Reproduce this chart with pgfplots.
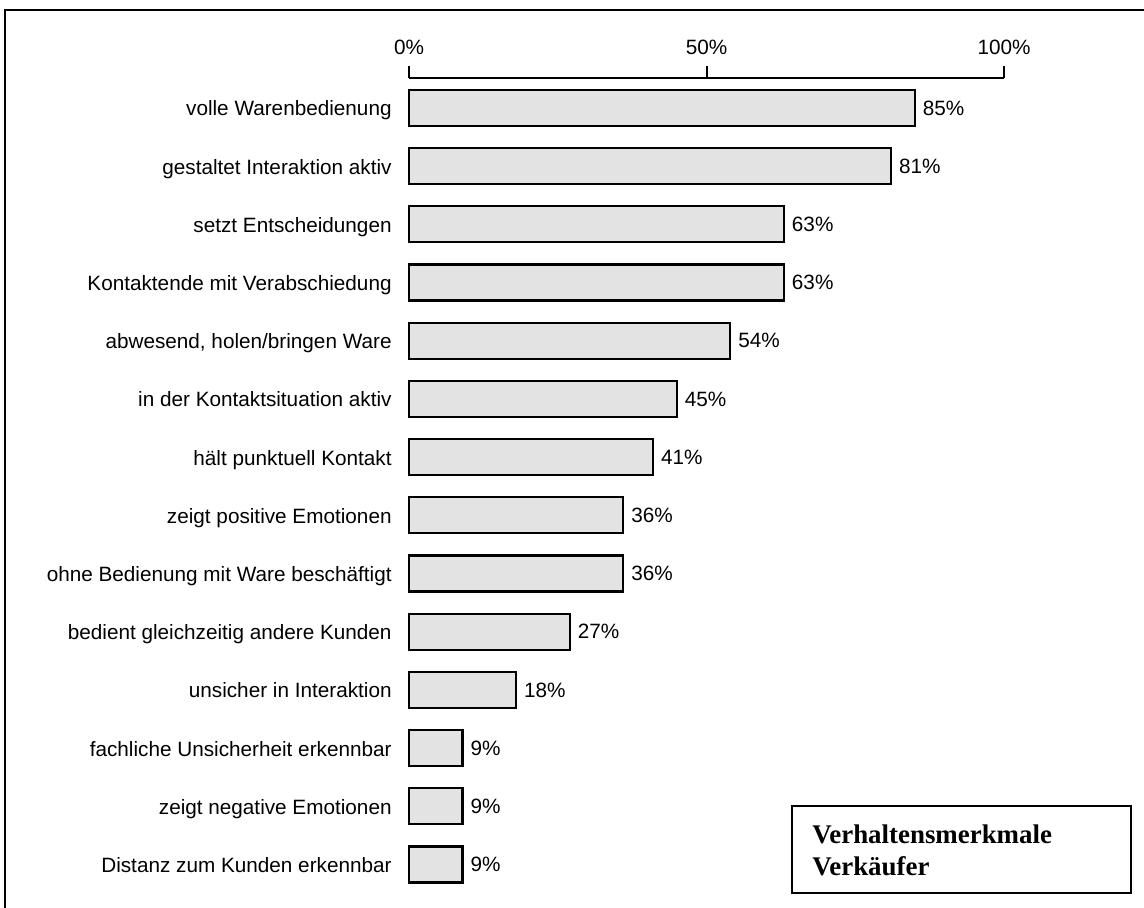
\documentclass[border=0pt]{standalone}
\usepackage{pgfplots}
\pgfplotsset{compat=1.18}
\usepackage{fontspec}
\setmainfont{Liberation Sans}
\newfontfamily\boxfont{Liberation Serif}
\definecolor{barfill}{RGB}{227,227,227}
\begin{document}
\begin{tikzpicture}
\useasboundingbox (0,0) rectangle (572bp,454bp);
% outer frame (only top and left visible)
\draw[line width=1bp] (2.5bp,-10bp) -- (2.5bp,449bp) -- (590bp,449bp);
\begin{axis}[
    at={(204.5bp,415bp)}, anchor=north west,
    x=2.975bp, y=29.1bp,
    y dir=reverse,
    xbar, bar width=18bp,
    xmin=0, xmax=100,
    ymin=-0.515, ymax=13.5,
    clip=false,
    axis x line*=top,
    axis y line*=left,
    y axis line style={draw=none},
    x axis line style={line width=1bp, -},
    xtick={0,50,100},
    xtick align=outside,
    major x tick style={line width=1bp, black},
    major tick length=6bp,
    xticklabel={\pgfmathprintnumber{\tick}\%},
    xticklabel style={yshift=2bp},
    /pgf/number format/assume math mode=true,
    ytick={0,...,13},
    major y tick style={draw=none},
    typeset ticklabels with strut,
    yticklabels={volle Warenbedienung, gestaltet Interaktion aktiv, setzt Entscheidungen, Kontaktende mit Verabschiedung, {abwesend, holen/bringen Ware}, in der Kontaktsituation aktiv, hält punktuell Kontakt, zeigt positive Emotionen, ohne Bedienung mit Ware beschäftigt, bedient gleichzeitig andere Kunden, unsicher in Interaktion, fachliche Unsicherheit erkennbar, zeigt negative Emotionen, Distanz zum Kunden erkennbar},
    tick label style={font=\fontsize{10.4}{12.4}\selectfont},
    yticklabel style={anchor=east, inner sep=0pt, xshift=-2.5bp, yshift=-1.5bp},
    point meta=x,
    nodes near coords={\pgfmathprintnumber{\pgfplotspointmeta}\%},
    nodes near coords style={font=\fontsize{10.4}{12.4}\selectfont, anchor=west, inner sep=3.5bp},
]
\addplot[draw=black, line width=1.1bp, fill=barfill] coordinates {
  (85,0) (81,1) (63,2) (63,3) (54,4) (45,5) (41,6)
  (36,7) (36,8) (27,9) (18,10) (9,11) (9,12) (9,13)
};
\end{axis}
% title box
\draw[line width=1bp] (396bp,7.5bp) rectangle (565.5bp,51bp);
\node[anchor=base west, inner sep=0pt, font=\boxfont\bfseries\fontsize{13.5}{15.5}\selectfont] at (406bp,32.5bp) {Verhaltensmerkmale};
\node[anchor=base west, inner sep=0pt, font=\boxfont\bfseries\fontsize{13.5}{15.5}\selectfont] at (406bp,16.5bp) {Verkäufer};
\end{tikzpicture}
\end{document}
